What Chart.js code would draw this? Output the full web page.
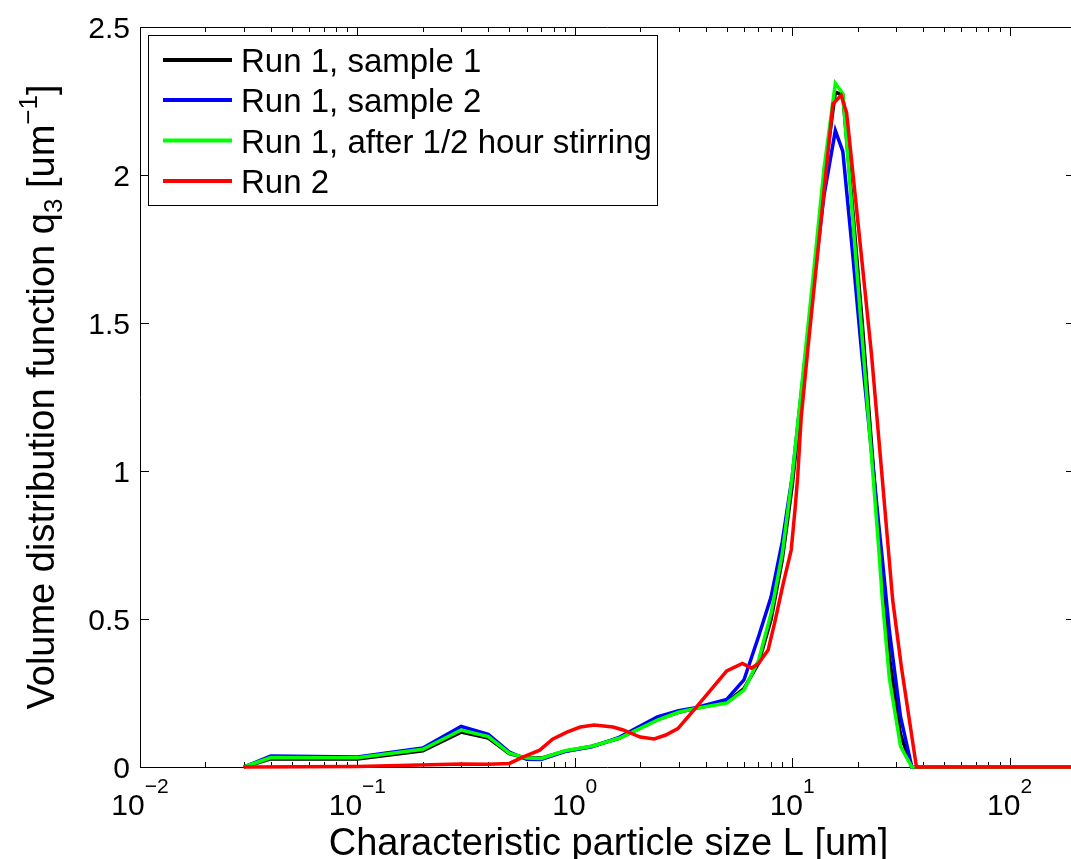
<!DOCTYPE html>
<html>
<head>
<meta charset="utf-8">
<script src="https://cdn.jsdelivr.net/npm/chart.js@4.4.1/dist/chart.umd.min.js"></script>
<style>
html,body{margin:0;padding:0;background:#ffffff;overflow:hidden;width:1071px;height:859px;}
canvas{display:block;}
</style>
</head>
<body>
<canvas id="chart" width="1076" height="859"></canvas>
<script>
// ---------------- data ----------------
const seriesNames = ['Run 1, sample 1', 'Run 1, sample 2', 'Run 1, after 1/2 hour stirring', 'Run 2'];
const seriesColors = ['#000000', '#0000ff', '#00ff00', '#ff0000'];

const run1Sizes   = [0.03, 0.04, 0.1, 0.2, 0.3, 0.4, 0.5, 0.6, 0.7, 0.9, 1.2, 1.6, 2.4, 3, 3.6, 5, 6, 7, 8, 9, 10, 11, 12.5, 14, 15.8, 17.1, 19, 21, 23, 25, 26, 28, 31.5, 35.5, 200];
const run1Sample1 = [0, 0.028, 0.027, 0.055, 0.118, 0.098, 0.045, 0.03, 0.03, 0.053, 0.07, 0.097, 0.16, 0.185, 0.198, 0.218, 0.265, 0.35, 0.50, 0.70, 0.95, 1.24, 1.63, 1.99, 2.28, 2.27, 1.88, 1.50, 1.12, 0.78, 0.62, 0.37, 0.11, 0, 0];
const run1Sample2 = [0, 0.037, 0.034, 0.064, 0.137, 0.11, 0.05, 0.026, 0.025, 0.052, 0.068, 0.1, 0.169, 0.19, 0.2, 0.228, 0.294, 0.44, 0.575, 0.76, 0.98, 1.26, 1.62, 1.93, 2.15, 2.08, 1.73, 1.38, 1.09, 0.82, 0.70, 0.46, 0.17, 0, 0];
const run1Stirred = [0, 0.032, 0.031, 0.06, 0.125, 0.103, 0.047, 0.03, 0.029, 0.055, 0.07, 0.097, 0.158, 0.185, 0.198, 0.216, 0.26, 0.36, 0.52, 0.72, 0.98, 1.27, 1.66, 2.02, 2.31, 2.275, 1.85, 1.45, 1.08, 0.74, 0.564, 0.30, 0.07, 0, 0];

const run2Sizes  = [0.03, 0.1, 0.3, 0.4, 0.5, 0.58, 0.69, 0.79, 0.92, 1.06, 1.23, 1.5, 1.67, 2.0, 2.32, 2.62, 2.98, 3.6, 4.3, 5.0, 5.9, 6.5, 7.0, 7.75, 8.3, 9.1, 9.9, 10.3, 10.6, 11.0, 11.8, 13.5, 15.4, 16.8, 17.8, 18.4, 20.7, 23.2, 26, 29, 31.8, 37.3, 200];
const run2Values = [0, 0.002, 0.01, 0.009, 0.012, 0.034, 0.057, 0.094, 0.118, 0.135, 0.142, 0.135, 0.125, 0.101, 0.095, 0.108, 0.13, 0.2, 0.267, 0.325, 0.35, 0.334, 0.35, 0.395, 0.486, 0.62, 0.733, 0.868, 0.98, 1.18, 1.41, 1.83, 2.24, 2.27, 2.21, 2.11, 1.745, 1.39, 0.97, 0.564, 0.338, 0, 0];

const xMajorTicks    = [0.01, 0.1, 1, 10, 100];
const xTickBase      = '10';
const xTickExponents = ['\u22122', '\u22121', '0', '1', '2'];
const yTicks         = [0, 0.5, 1, 1.5, 2, 2.5];
const yTickLabels    = ['0', '0.5', '1', '1.5', '2', '2.5'];
const xRange = [0.01, 200];
const yRange = [0, 2.5];

const xTitle = 'Characteristic particle size L [um]';
const yTitleParts = ['Volume distribution function q', '3', ' [um', '\u22121', ']'];

// ---------------- drawing helpers ----------------
const FONT = '"Liberation Sans", Arial, Helvetica, sans-serif';

function drawRuns(ctx, runs, x, y, align) {
  let total = 0;
  for (const r of runs) {
    ctx.font = r.size + 'px ' + FONT;
    r.w = ctx.measureText(r.text).width;
    total += r.w;
  }
  let cx = align === 'center' ? x - total / 2 : (align === 'right' ? x - total : x);
  ctx.textAlign = 'left';
  ctx.textBaseline = 'alphabetic';
  for (const r of runs) {
    ctx.font = r.size + 'px ' + FONT;
    ctx.fillText(r.text, cx, y + (r.dy || 0));
    cx += r.w;
  }
}

function minorTicks(min, max) {
  const out = [];
  for (let d = min; d < max; d *= 10) {
    for (let k = 2; k <= 9; k++) {
      const v = k * d;
      if (v < max) out.push(v);
    }
  }
  return out;
}

const matlabAxes = {
  id: 'matlabAxes',
  beforeDatasetsDraw(chart) {
    const { ctx, chartArea: a, scales: { x, y } } = chart;
    ctx.save();
    ctx.strokeStyle = '#000';
    ctx.lineWidth = 1;
    ctx.beginPath();
    ctx.rect(a.left + 0.5, a.top + 0.5, a.right - a.left - 1, a.bottom - a.top);
    const majorLen = 9, minorLen = 5;
    for (const v of xMajorTicks) {
      const px = Math.round(x.getPixelForValue(v)) + 0.5;
      ctx.moveTo(px, a.bottom); ctx.lineTo(px, a.bottom - majorLen);
      ctx.moveTo(px, a.top); ctx.lineTo(px, a.top + majorLen);
    }
    for (const v of minorTicks(xRange[0], xRange[1])) {
      const px = Math.round(x.getPixelForValue(v)) + 0.5;
      ctx.moveTo(px, a.bottom); ctx.lineTo(px, a.bottom - minorLen);
      ctx.moveTo(px, a.top); ctx.lineTo(px, a.top + minorLen);
    }
    for (const v of yTicks) {
      const py = Math.round(y.getPixelForValue(v)) + 0.5;
      ctx.moveTo(a.left, py); ctx.lineTo(a.left + majorLen, py);
      ctx.moveTo(a.right, py); ctx.lineTo(a.right - majorLen, py);
    }
    ctx.stroke();
    ctx.restore();
  },
  afterDraw(chart) {
    const { ctx, chartArea: a, scales: { x, y } } = chart;
    ctx.save();
    ctx.fillStyle = '#000';
    // y tick labels
    ctx.font = '30px ' + FONT;
    ctx.textAlign = 'right';
    ctx.textBaseline = 'alphabetic';
    yTicks.forEach((v, i) => {
      ctx.fillText(yTickLabels[i], 130, y.getPixelForValue(v) + 11);
    });
    // x tick labels (10^n)
    xMajorTicks.forEach((v, i) => {
      drawRuns(ctx, [
        { text: xTickBase, size: 30 },
        { text: xTickExponents[i], size: 21, dy: -22 }
      ], x.getPixelForValue(v), 815, 'center');
    });
    // x title
    drawRuns(ctx, [{ text: xTitle, size: 38 }], (a.left + a.right) / 2 + 1, 855, 'center');
    // y title
    ctx.save();
    ctx.translate(54, (a.top + a.bottom) / 2);
    ctx.rotate(-Math.PI / 2);
    drawRuns(ctx, [
      { text: yTitleParts[0], size: 38 },
      { text: yTitleParts[1], size: 26, dy: 8 },
      { text: yTitleParts[2], size: 38 },
      { text: yTitleParts[3], size: 26, dy: -17 },
      { text: yTitleParts[4], size: 38 }
    ], 0, 0, 'center');
    ctx.restore();

    // legend box
    const L = { x: 148.5, y: 35.5, w: 509, h: 170, rowY: [60, 100, 140.5, 181], lineX0: 163, lineX1: 232, textX: 241 };
    ctx.fillStyle = '#fff';
    ctx.fillRect(L.x, L.y, L.w, L.h);
    ctx.strokeStyle = '#000';
    ctx.lineWidth = 1;
    ctx.strokeRect(L.x, L.y, L.w, L.h);
    chart.data.datasets.forEach((ds, i) => {
      const ry = L.rowY[i];
      ctx.strokeStyle = ds.borderColor;
      ctx.lineWidth = 4;
      ctx.beginPath();
      ctx.moveTo(L.lineX0, ry); ctx.lineTo(L.lineX1, ry);
      ctx.stroke();
      ctx.fillStyle = '#000';
      ctx.font = '33px ' + FONT;
      ctx.textAlign = 'left';
      ctx.textBaseline = 'alphabetic';
      ctx.fillText(ds.label, L.textX, ry + 12);
    });
    ctx.restore();
  }
};

function toPoints(xs, ys) { return xs.map((v, i) => ({ x: v, y: ys[i] })); }

const lineStyle = { borderWidth: 3.5, pointRadius: 0, pointHoverRadius: 0, fill: false, tension: 0, clip: false };
const datasets = [
  Object.assign({ label: seriesNames[0], data: toPoints(run1Sizes, run1Sample1), borderColor: seriesColors[0], order: 3 }, lineStyle),
  Object.assign({ label: seriesNames[1], data: toPoints(run1Sizes, run1Sample2), borderColor: seriesColors[1], order: 2 }, lineStyle),
  Object.assign({ label: seriesNames[2], data: toPoints(run1Sizes, run1Stirred), borderColor: seriesColors[2], order: 1 }, lineStyle),
  Object.assign({ label: seriesNames[3], data: toPoints(run2Sizes, run2Values), borderColor: seriesColors[3], order: 0 }, lineStyle)
];

new Chart(document.getElementById('chart'), {
  type: 'line',
  data: { datasets },
  options: {
    responsive: false,
    animation: false,
    parsing: true,
    layout: { padding: { left: 140, top: 27, right: 1, bottom: 92 } },
    plugins: { legend: { display: false }, tooltip: { enabled: false }, title: { display: false } },
    scales: {
      x: { type: 'logarithmic', min: xRange[0], max: xRange[1], display: false },
      y: { type: 'linear', min: yRange[0], max: yRange[1], display: false }
    }
  },
  plugins: [matlabAxes]
});
</script>
</body>
</html>
